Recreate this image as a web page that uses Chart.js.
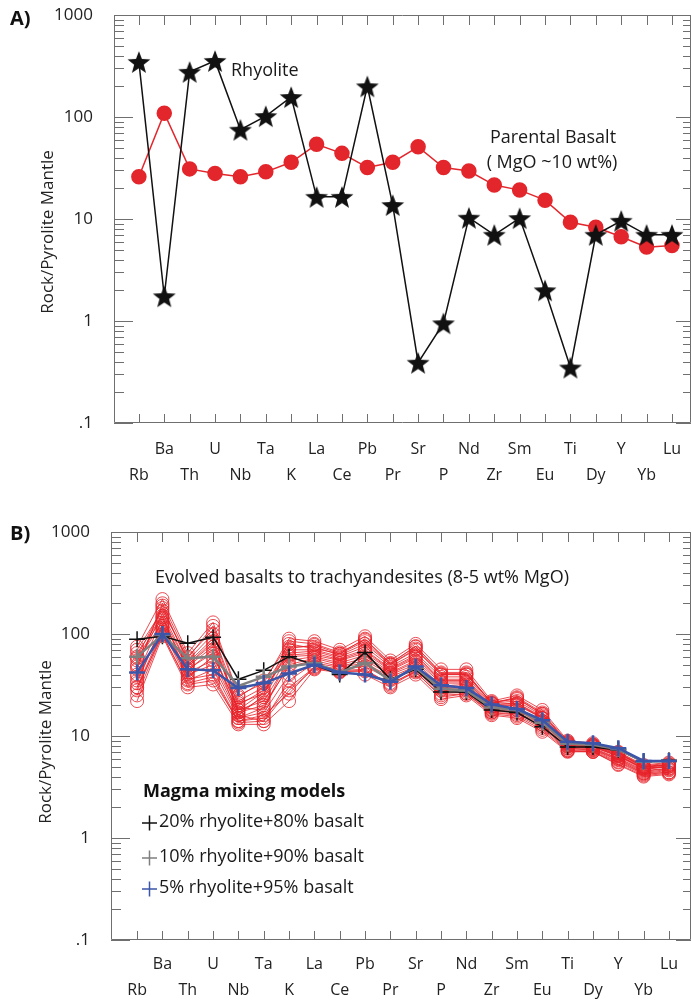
<!DOCTYPE html>
<html>
<head>
<meta charset="utf-8">
<script src="https://cdn.jsdelivr.net/npm/chart.js@4.4.1/dist/chart.umd.min.js"></script>
<style>
body { margin: 0; background: #fff; }
#wrapA { position: absolute; left: 0; top: 0; width: 691px; height: 490px; }
#wrapB { position: absolute; left: 0; top: 490px; width: 691px; height: 512px; }
</style>
</head>
<body>
<div id="wrapA"><canvas id="chartA" width="691" height="490"></canvas></div>
<div id="wrapB"><canvas id="chartB" width="691" height="512"></canvas></div>
<script>
// element order along the spider diagram
var elements = ["Rb","Ba","Th","U","Nb","Ta","K","La","Ce","Pb","Pr","Sr","P","Nd","Zr","Sm","Eu","Ti","Dy","Y","Yb","Lu"];

var yTicks = [0.1, 1, 10, 100, 1000];
var yTickLabels = [".1", "1", "10", "100", "1000"];

// panel A
var rhyolite = [347, 1.75, 277, 355, 75, 102, 157, 16.5, 16.5, 200, 13.7, 0.39, 0.95, 10.3, 7.0, 10.2, 2.0, 0.35, 7.0, 9.6, 7.0, 7.0];
var basalt   = [26, 109, 31, 28, 26, 29, 36, 54, 44, 32, 36, 51, 32, 29.5, 21.5, 19.2, 15.3, 9.3, 8.3, 6.7, 5.3, 5.5];

// panel B - mixing models
var model20 = [89, 95, 81, 93, 36, 44, 60, 50, 40, 66, 36, 45, 27, 27, 18, 17, 12.3, 7.8, 7.8, 7.3, 5.6, 5.8];
var model10 = [60, 98, 58, 60, 31, 38, 48, 52, 42, 52, 35, 47, 29, 28, 19, 18, 13.5, 8.4, 8.2, 7.4, 5.6, 5.7];
var model5  = [42, 100, 45, 44, 29.5, 33, 41, 50, 42, 40, 34, 48, 31.5, 29.5, 20.4, 18.4, 14.3, 8.8, 8.5, 7.6, 5.7, 5.7];

// panel B - evolved basalts to trachyandesites
var sample1  = [75, 220, 65, 130, 25, 33, 90, 85, 70, 95, 55, 80, 45, 45, 22, 25, 18, 9.0, 8.5, 7.0, 5.2, 5.5];
var sample2  = [60, 180, 55, 100, 22, 30, 75, 75, 62, 80, 50, 70, 40, 40, 21, 22, 16, 8.6, 8.2, 6.8, 5.0, 5.3];
var sample3  = [50, 160, 50, 80, 20, 28, 65, 68, 58, 70, 46, 62, 36, 36, 20, 21, 15, 8.3, 8.0, 6.5, 4.8, 5.1];
var sample4  = [40, 140, 45, 65, 18, 22, 55, 60, 52, 62, 42, 55, 33, 33, 19, 19, 14, 8.0, 7.8, 6.3, 4.7, 5.0];
var sample5  = [35, 120, 42, 55, 17, 20, 48, 55, 48, 55, 40, 50, 30, 30, 18, 18, 13.5, 7.8, 7.5, 6.0, 4.5, 4.8];
var sample6  = [30, 110, 35, 45, 15, 17, 40, 50, 45, 48, 36, 46, 28, 28, 17.5, 17, 13, 7.5, 7.3, 5.8, 4.3, 4.6];
var sample7  = [25, 100, 32, 35, 14, 15, 30, 47, 43, 43, 33, 42, 25, 26, 17, 16, 12, 7.2, 7.0, 5.5, 4.2, 4.4];
var sample8  = [22, 95, 30, 32, 13, 13, 22, 45, 42, 40, 30, 40, 23, 25, 16, 15, 11, 7.0, 7.0, 5.2, 4.0, 4.2];
var sample9  = [45, 200, 60, 110, 16, 25, 85, 80, 66, 88, 52, 75, 42, 42, 21, 24, 17, 8.8, 8.3, 6.9, 5.1, 5.4];
var sample10 = [65, 150, 38, 60, 19, 18, 60, 62, 55, 65, 44, 58, 34, 34, 19.5, 20, 15, 8.2, 7.8, 6.4, 4.8, 5.0];
var sample11 = [55, 130, 48, 75, 21, 26, 70, 70, 60, 75, 48, 65, 38, 38, 20.5, 21, 15.5, 8.4, 8.0, 6.6, 4.9, 5.2];
var sample12 = [28, 105, 40, 50, 16, 14, 35, 52, 47, 52, 38, 48, 29, 29, 18, 18, 13, 7.6, 7.4, 5.9, 4.4, 4.7];
var sample13 = [70, 170, 58, 120, 24, 35, 80, 72, 64, 85, 50, 72, 40, 40, 21.5, 23, 16.5, 8.7, 8.1, 6.7, 5.0, 5.2];
var sample14 = [33, 125, 36, 40, 14, 16, 26, 48, 44, 45, 32, 44, 26, 27, 17, 16.5, 12.5, 7.3, 7.2, 5.6, 4.3, 4.4];
var sample15 = [48, 190, 52, 90, 18, 27, 72, 78, 64, 90, 51, 76, 41, 41, 21, 23.5, 16.5, 8.5, 8.2, 6.8, 5.0, 5.2];
var sample16 = [38, 115, 44, 70, 15, 19, 50, 58, 50, 58, 41, 53, 31, 32, 18.5, 19, 14, 7.9, 7.6, 6.1, 4.6, 4.8];
var sample17 = [58, 145, 50, 85, 17, 24, 62, 65, 56, 68, 45, 60, 35, 35, 19.5, 20.5, 15, 8.1, 7.9, 6.4, 4.8, 5.0];
var sample18 = [30, 98, 33, 38, 13.5, 14, 28, 46, 43, 44, 31, 43, 24, 26, 16.5, 15.5, 11.5, 7.1, 7.0, 5.3, 4.1, 4.3];
var samples = [sample1, sample2, sample3, sample4, sample5, sample6, sample7, sample8, sample9,
	sample10, sample11, sample12, sample13, sample14, sample15, sample16, sample17, sample18];

var FONT = "'Open Sans', 'Noto Sans', sans-serif";

function toPoints(arr) {
	return arr.map(function(v, i){ return {x: i, y: v}; });
}

function makeStar(r) {
	var s = Math.ceil(r * 2 + 4);
	var c = document.createElement("canvas");
	c.width = s; c.height = s;
	var g = c.getContext("2d");
	g.translate(s / 2, s / 2 + r * 0.1);
	g.beginPath();
	for (var i = 0; i < 10; i++) {
		var a = -Math.PI / 2 + i * Math.PI / 5;
		var rr = (i % 2) ? r * 0.42 : r;
		g.lineTo(rr * Math.cos(a), rr * Math.sin(a));
	}
	g.closePath();
	g.fillStyle = "#111";
	g.fill();
	return c;
}

function noPad(s) {
	s.paddingTop = 0; s.paddingBottom = 0; s.paddingLeft = 0; s.paddingRight = 0;
}

// box, inward ticks and free texts
var frame = {
	id: "frame",
	beforeDatasetsDraw: function(chart) {
		var ctx = chart.ctx, a = chart.chartArea, xs = chart.scales.x, ys = chart.scales.y;
		ctx.save();
		ctx.strokeStyle = "#6f6f6f";
		ctx.lineWidth = 1;
		ctx.beginPath();
		ctx.rect(a.left + 0.5, a.top + 0.5, a.right - a.left - 1, a.bottom - a.top - 1);
		ctx.stroke();
		ctx.beginPath();
		elements.forEach(function(e, i){
			var px = Math.round(xs.getPixelForValue(i)) + 0.5;
			ctx.moveTo(px, a.bottom); ctx.lineTo(px, a.bottom - 9);
			ctx.moveTo(px, a.top); ctx.lineTo(px, a.top + 10);
		});
		yTicks.forEach(function(d, j){
			var py = Math.round(ys.getPixelForValue(d)) + 0.5;
			ctx.moveTo(a.left, py); ctx.lineTo(a.left + 19, py);
			ctx.moveTo(a.right, py); ctx.lineTo(a.right - 15, py);
			if (j < yTicks.length - 1) {
				for (var k = 2; k <= 9; k++) {
					var pm = Math.round(ys.getPixelForValue(k * d)) + 0.5;
					ctx.moveTo(a.left, pm); ctx.lineTo(a.left + 10, pm);
					ctx.moveTo(a.right, pm); ctx.lineTo(a.right - 8, pm);
				}
			}
		});
		ctx.stroke();
		ctx.restore();
	},
	afterDraw: function(chart, args, opts) {
		var ctx = chart.ctx;
		ctx.save();
		ctx.textBaseline = "middle";
		// y axis title
		ctx.save();
		ctx.translate(opts.titleX, opts.titleY);
		ctx.rotate(-Math.PI / 2);
		ctx.textAlign = "center";
		ctx.fillStyle = "#222";
		ctx.font = "17px " + FONT;
		ctx.fillText("Rock/Pyrolite Mantle", 0, 0);
		ctx.restore();
		(opts.texts || []).forEach(function(t){
			ctx.font = t.font;
			ctx.fillStyle = t.color || "#1a1a1a";
			ctx.textAlign = t.align || "left";
			ctx.fillText(t.text, t.x, t.y);
		});
		// legend crosses
		(opts.marks || []).forEach(function(m){
			ctx.strokeStyle = m.color;
			ctx.lineWidth = 1.5;
			ctx.beginPath();
			ctx.moveTo(m.x - 7.5, m.y); ctx.lineTo(m.x + 7.5, m.y);
			ctx.moveTo(m.x, m.y - 7.5); ctx.lineTo(m.x, m.y + 7.5);
			ctx.stroke();
		});
		ctx.restore();
	}
};

function makeOptions(cfg) {
	return {
		responsive: false,
		animation: false,
		layout: { autoPadding: false, padding: { top: cfg.top, right: 0, left: 0, bottom: 0 } },
		plugins: {
			legend: { display: false },
			tooltip: { enabled: false },
			frame: { titleX: cfg.titleX, titleY: cfg.titleY, texts: cfg.texts, marks: cfg.marks }
		},
		scales: {
			x: {
				type: "linear", min: cfg.xmin, max: cfg.xmax,
				grid: { display: false }, border: { display: false },
				afterBuildTicks: function(s){ s.ticks = elements.map(function(e, i){ return {value: i}; }); },
				afterFit: function(s){ s.height = cfg.xh; noPad(s); },
				ticks: {
					autoSkip: false, maxRotation: 0, padding: cfg.xpad, color: "#222",
					font: { family: FONT, size: 16, lineHeight: 1.65 },
					callback: function(v){
						var i = Math.round(v);
						return (i % 2) ? [elements[i], ""] : ["", elements[i]];
					}
				}
			},
			y: {
				type: "logarithmic", min: 0.1, max: 1000,
				grid: { display: false }, border: { display: false },
				afterBuildTicks: function(s){ s.ticks = yTicks.map(function(v){ return {value: v}; }); },
				afterFit: function(s){ s.width = cfg.left; noPad(s); },
				ticks: {
					padding: 13, color: "#222",
					font: { family: FONT, size: 17 },
					callback: function(v, idx){ return yTickLabels[idx]; }
				}
			}
		}
	};
}

var starImg = makeStar(12);

new Chart(document.getElementById("chartA"), {
	type: "line",
	data: {
		datasets: [
			{
				label: "Rhyolite", data: toPoints(rhyolite), order: 0,
				borderColor: "#111", borderWidth: 1.5,
				pointStyle: starImg, pointRadius: 12
			},
			{
				label: "Parental Basalt", data: toPoints(basalt), order: 1,
				borderColor: "#e3262c", borderWidth: 1.5,
				pointBackgroundColor: "#e3262c", pointBorderColor: "#e3262c", pointRadius: 7
			}
		]
	},
	options: makeOptions({
		top: 15, left: 114, xh: 67, xpad: 5, xmin: -0.98, xmax: 21.75,
		titleX: 48, titleY: 232,
		texts: [
			{ text: "A)", x: 10, y: 19, font: "bold 20px " + FONT, color: "#111" },
			{ text: "Rhyolite", x: 231, y: 71, font: "18px " + FONT },
			{ text: "Parental Basalt", x: 553, y: 138, font: "18px " + FONT, align: "center" },
			{ text: "( MgO ~10 wt%)", x: 552, y: 163, font: "18px " + FONT, align: "center" }
		]
	}),
	plugins: [frame]
});

var bSets = samples.map(function(s, i){
	return {
		label: "sample " + (i + 1), data: toPoints(s), order: 5,
		borderColor: "rgba(230, 32, 40, 0.8)", borderWidth: 1,
		pointStyle: "circle", pointRadius: 6.5, pointBorderWidth: 1,
		pointBorderColor: "rgba(230, 32, 40, 0.8)", pointBackgroundColor: "rgba(0,0,0,0)"
	};
});
bSets.push({
	label: "20% rhyolite+80% basalt", data: toPoints(model20), order: 2,
	borderColor: "#111", borderWidth: 1.5,
	pointStyle: "cross", pointRadius: 8, pointBorderWidth: 1.5, pointBorderColor: "#111"
});
bSets.push({
	label: "10% rhyolite+90% basalt", data: toPoints(model10), order: 1,
	borderColor: "#7f7f7f", borderWidth: 2.5,
	pointStyle: "cross", pointRadius: 8, pointBorderWidth: 2.5, pointBorderColor: "#7f7f7f"
});
bSets.push({
	label: "5% rhyolite+95% basalt", data: toPoints(model5), order: 0,
	borderColor: "#3b55a8", borderWidth: 2.5,
	pointStyle: "cross", pointRadius: 8, pointBorderWidth: 2.5, pointBorderColor: "#3b55a8"
});

new Chart(document.getElementById("chartB"), {
	type: "line",
	data: { datasets: bSets },
	options: makeOptions({
		top: 42, left: 111, xh: 62, xpad: 3, xmin: -1.03, xmax: 21.87,
		titleX: 46, titleY: 252,
		texts: [
			{ text: "B)", x: 10, y: 44, font: "bold 20px " + FONT, color: "#111" },
			{ text: "Evolved basalts to trachyandesites (8-5 wt% MgO)", x: 155, y: 88, font: "18px " + FONT },
			{ text: "Magma mixing models", x: 143, y: 302, font: "bold 18px " + FONT, color: "#111" },
			{ text: "20% rhyolite+80% basalt", x: 159, y: 332, font: "18px " + FONT },
			{ text: "10% rhyolite+90% basalt", x: 159, y: 367, font: "18px " + FONT },
			{ text: "5% rhyolite+95% basalt", x: 159, y: 398, font: "18px " + FONT }
		],
		marks: [
			{ x: 149.5, y: 333, color: "#111" },
			{ x: 149.5, y: 368, color: "#7f7f7f" },
			{ x: 149.5, y: 399, color: "#3b55a8" }
		]
	}),
	plugins: [frame]
});
</script>
</body>
</html>
